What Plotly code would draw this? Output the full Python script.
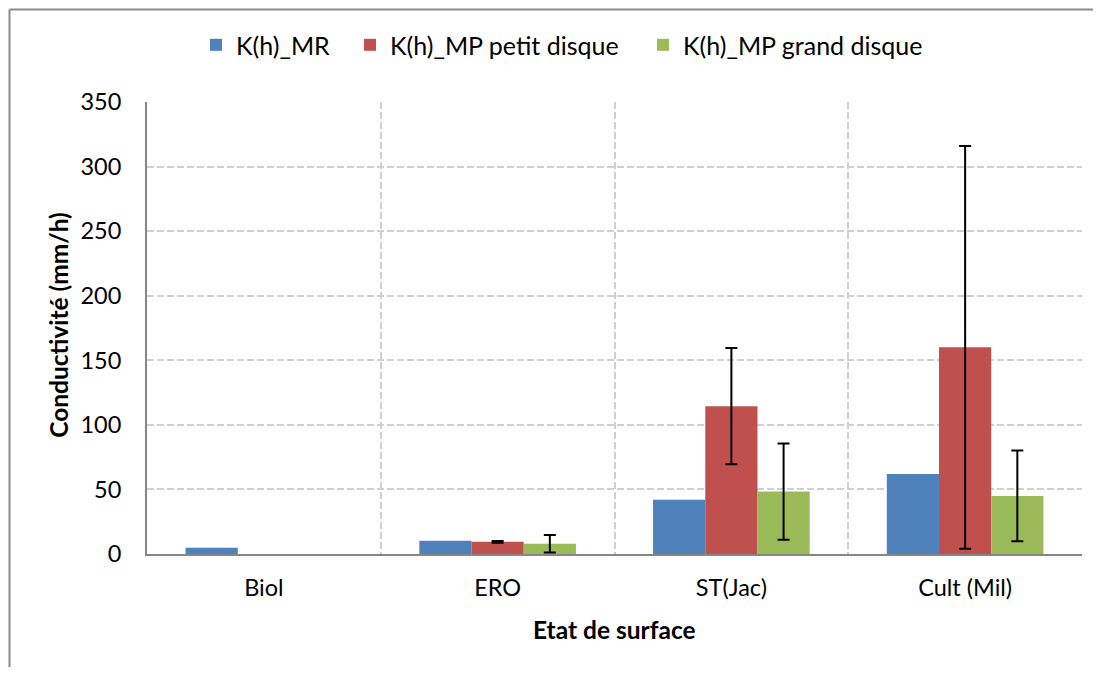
import plotly.graph_objects as go

categories = ["Biol", "ERO", "ST(Jac)", "Cult (Mil)"]
series_names = ["K(h)_MR", "K(h)_MP petit disque", "K(h)_MP grand disque"]
mr_values = [4.8, 10.2, 42, 62]
mp_petit_values = [None, 9.4, 114.5, 160]
mp_petit_err = [None, 0.7, 45, 156]
mp_grand_values = [None, 8, 48.3, 45]
mp_grand_err = [None, 6.8, 37.2, 35.2]
y_ticks = [0, 50, 100, 150, 200, 250, 300, 350]

colors = ["#4F81BD", "#C0504D", "#9BBB59"]
FONT = "Lato"
TICK_SIZE = 23.5
LEG_SIZE = 25
TITLE_SIZE = 24.5

fig = go.Figure()
fig.add_trace(go.Bar(x=categories, y=mr_values, name=series_names[0], legend="legend",
                     marker=dict(color=colors[0], line=dict(width=0))))
fig.add_trace(go.Bar(x=categories, y=mp_petit_values, name=series_names[1], legend="legend2",
                     marker=dict(color=colors[1], line=dict(width=0)),
                     error_y=dict(type="data", array=mp_petit_err, visible=True,
                                  color="black", thickness=2, width=6)))
fig.add_trace(go.Bar(x=categories, y=mp_grand_values, name=series_names[2], legend="legend3",
                     marker=dict(color=colors[2], line=dict(width=0)),
                     error_y=dict(type="data", array=mp_grand_err, visible=True,
                                  color="black", thickness=2, width=6)))

leg_y = (554.5 - 45) / 452.5
leg_common = dict(orientation="h", y=leg_y, yanchor="middle", xanchor="left",
                  font=dict(family=FONT, size=LEG_SIZE, color="black"),
                  bgcolor="rgba(0,0,0,0)")

fig.update_layout(
    width=1085, height=659,
    margin=dict(l=139, r=11, t=94, b=112.5),
    paper_bgcolor="white", plot_bgcolor="white",
    barmode="group", bargap=0.33, bargroupgap=0,
    font=dict(family=FONT, size=TICK_SIZE, color="black"),
    legend=dict(x=(196 - 147) / 935, **leg_common),
    legend2=dict(x=(350 - 147) / 935, **leg_common),
    legend3=dict(x=(643 - 147) / 935, **leg_common),
    showlegend=True,
)
fig.update_xaxes(
    type="category", tickson="boundaries", showgrid=True, gridcolor="#D0D0D0",
    griddash="7px,3px", gridwidth=1.5, showline=True, linecolor="#868686", linewidth=2,
    ticks="", ticklabelstandoff=12, tickfont=dict(family=FONT, size=TICK_SIZE),
    range=[-0.5, 3.5],
)
fig.update_yaxes(
    range=[0, 350], tickvals=y_ticks, showgrid=True, gridcolor="#D0D0D0",
    griddash="7px,3px", gridwidth=1.5, showline=True, linecolor="#868686", linewidth=2,
    zeroline=False, ticks="", ticklabelstandoff=19, tickfont=dict(family=FONT, size=TICK_SIZE),
)

# axis titles
fig.add_annotation(text="<b>Conductivité (mm/h)</b>", xref="paper", yref="paper",
                   x=(59 - 147) / 935, y=(554.5 - 325) / 452.5, textangle=-90,
                   showarrow=False, font=dict(family=FONT, size=TITLE_SIZE),
                   xanchor="center", yanchor="middle")
fig.add_annotation(text="<b>Etat de surface</b>", xref="paper", yref="paper",
                   x=(614 - 147) / 935, y=(554.5 - 630) / 452.5,
                   showarrow=False, font=dict(family=FONT, size=TITLE_SIZE),
                   xanchor="center", yanchor="middle")

# outer chart border (cropped)
bx = (9.5 - 147) / 935
by = (554.5 - 9.5) / 452.5
right_edge = (1085 - 139) / 935
fig.add_shape(type="line", xref="paper", yref="paper", x0=bx, x1=bx, y0=by, y1=-0.4,
              line=dict(color="#8C8C8C", width=2))
fig.add_shape(type="line", xref="paper", yref="paper", x0=bx, x1=right_edge, y0=by, y1=by,
              line=dict(color="#8C8C8C", width=2))

fig.write_html("out.html")
